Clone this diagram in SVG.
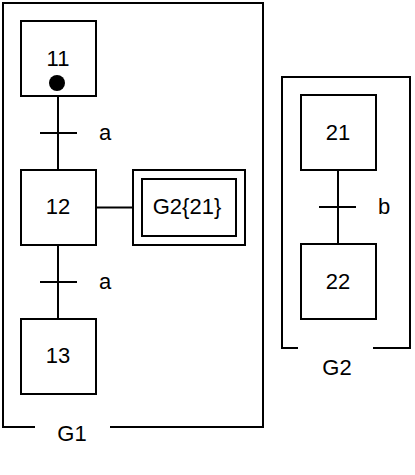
<svg xmlns="http://www.w3.org/2000/svg" width="415" height="475" viewBox="0 0 415 475">
<style>
.b{fill:#fff;stroke:#000;stroke-width:2}
.l{fill:none;stroke:#000;stroke-width:2}
.t{font-family:"Liberation Sans",Arial,sans-serif;font-size:22px;fill:#000}
.m{text-anchor:middle}
</style>
<rect width="415" height="475" fill="#fff"/>
<g id="frameG1">
<path class="l" d="M35,427 H3 V3 H263 V427 H110"/>
<text class="t m" x="72" y="441">G1</text>
</g>
<g id="frameG2">
<path class="l" d="M298,348 H282 V77 H410 V348 H373"/>
<text class="t m" x="337" y="375">G2</text>
</g>
<g id="connectors">
<line class="l" x1="58" y1="96" x2="58" y2="170"/>
<line class="l" x1="40" y1="133" x2="77" y2="133"/>
<text class="t" x="99" y="140">a</text>
<line class="l" x1="96" y1="207.5" x2="133" y2="207.5"/>
<line class="l" x1="58" y1="245" x2="58" y2="319"/>
<line class="l" x1="40" y1="282" x2="77" y2="282"/>
<text class="t" x="99" y="289">a</text>
<line class="l" x1="338" y1="170" x2="338" y2="244"/>
<line class="l" x1="319" y1="207" x2="356" y2="207"/>
<text class="t" x="378" y="214">b</text>
</g>
<g id="step11">
<rect class="b" x="21" y="21" width="75" height="75"/>
<text class="t m" x="58" y="66">11</text>
<circle cx="57" cy="83" r="8" fill="#000"/>
</g>
<g id="step12">
<rect class="b" x="21" y="170" width="75" height="75"/>
<text class="t m" x="58" y="214">12</text>
</g>
<g id="macro">
<rect class="b" x="133" y="170" width="112" height="75"/>
<rect class="b" x="142" y="179" width="94" height="57"/>
<text class="t m" x="187" y="214">G2{21}</text>
</g>
<g id="step13">
<rect class="b" x="21" y="319" width="75" height="75"/>
<text class="t m" x="58" y="363">13</text>
</g>
<g id="step21">
<rect class="b" x="301" y="95" width="75" height="75"/>
<text class="t m" x="338" y="140">21</text>
</g>
<g id="step22">
<rect class="b" x="301" y="244" width="75" height="75"/>
<text class="t m" x="338" y="289">22</text>
</g>
</svg>
